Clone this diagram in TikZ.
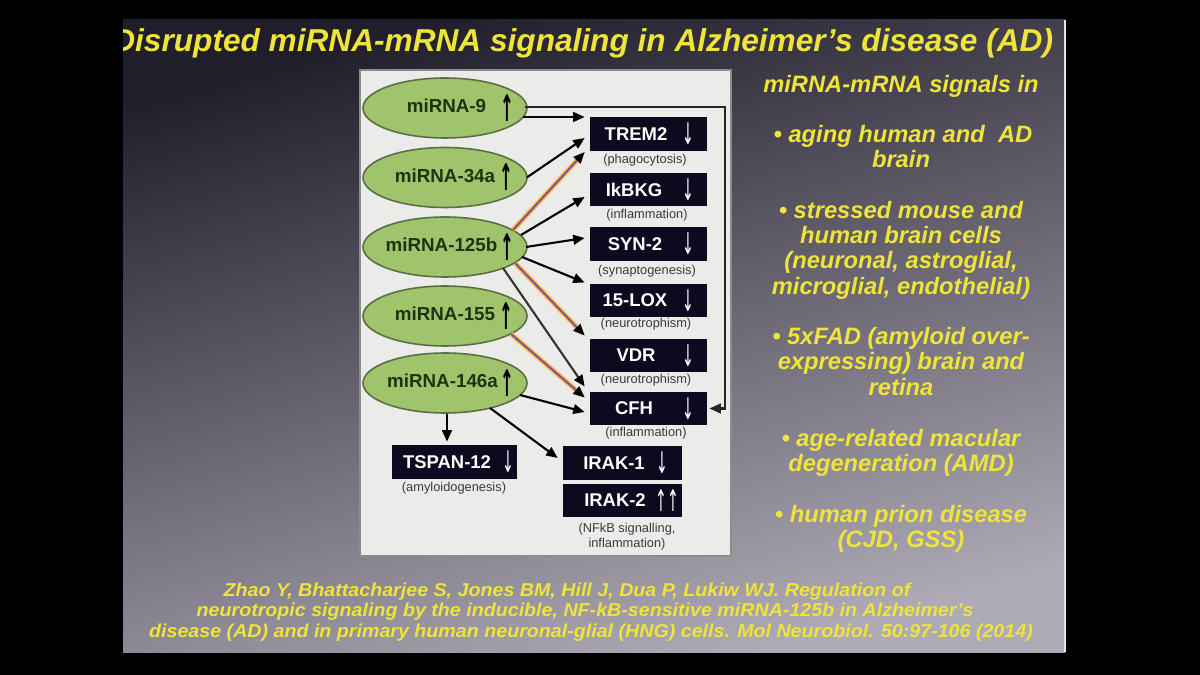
\documentclass[tikz,border=0pt]{standalone}
\usepackage{fontspec}
\setmainfont{Liberation Sans}
\newfontfamily\symf{DejaVu Sans}
\usetikzlibrary{arrows.meta,calc,shapes.geometric}
\definecolor{slidetop}{HTML}{211E2B}
\definecolor{slidemid}{HTML}{55515F}
\definecolor{slidebot}{HTML}{AEAAB6}
\definecolor{yel}{HTML}{EFE43A}
\definecolor{panel}{HTML}{EBEBE9}
\definecolor{panelb}{HTML}{8C8C8C}
\definecolor{ellf}{HTML}{9FC46C}
\definecolor{elld}{HTML}{5B6E45}
\definecolor{elltxt}{HTML}{1B3510}
\definecolor{boxc}{HTML}{0C0A1F}
\definecolor{subc}{HTML}{3A3A3A}
\definecolor{rainy}{HTML}{F0C040}
\definecolor{rainp}{HTML}{8A4A9A}
\newcommand\citew[1]{\scalebox{1.055}[1]{#1}}
\begin{document}
\begin{tikzpicture}[x=0.02cm,y=-0.02cm,
  mirna/.style={ellipse, fill=ellf, draw=elld, line width=0.9pt, minimum width=3.28cm, minimum height=1.2cm, inner sep=0pt},
  mtxt/.style={text=elltxt, font=\fontsize{10.7}{12}\selectfont\bfseries, inner sep=0pt},
  uparr/.style={text=black, font=\symf\bfseries\fontsize{11}{11}\selectfont, inner sep=0pt},
  gene/.style={rectangle, fill=boxc, minimum width=2.34cm, minimum height=0.68cm, inner sep=0pt},
  gtxt/.style={text=white, font=\fontsize{10.5}{12}\selectfont\bfseries, inner sep=0pt},
  dnarr/.style={text=white, font=\symf\fontsize{10}{10}\selectfont, inner sep=0pt},
  sub/.style={text=subc, font=\fontsize{7.3}{8.5}\selectfont, inner sep=0pt, align=center},
  arr/.style={draw=black, line width=1.2pt, -{Triangle[length=6.5pt,width=5.5pt]}},
  arrg/.style={draw=black!80, line width=1.2pt, -{Triangle[length=6.5pt,width=5.5pt,color=black]}},
  rain/.style={draw=rainp, line width=1.1pt, -{Triangle[length=6.5pt,width=5.5pt,color=black]},
    preaction={draw=rainy, line width=2.8pt, arrows=-, shorten >=5pt}},
  rtxt/.style={text=yel, font=\fontsize{13.5}{15}\selectfont\bfseries\itshape, anchor=base, inner sep=0pt},
  cit/.style={text=yel, font=\fontsize{10.6}{12}\selectfont\bfseries\itshape, anchor=base, inner sep=0pt}]
\useasboundingbox (0,0) rectangle (1200,675);
\fill[black] (0,0) rectangle (1200,675);
\shade[top color=slidetop, middle color=slidemid, bottom color=slidebot, shading angle=15] (123,20) rectangle (1065,652);
\draw[white!80!gray, line width=0.8pt] (1065,20) -- (1065,652);
\begin{scope}
\clip (123,20) rectangle (1065,652);
\node[text=yel, font=\fontsize{18}{21}\selectfont\bfseries\itshape, anchor=base west, inner sep=0pt] (title) at (112,52) {Disrupted miRNA-mRNA signaling in Alzheimer's disease (AD)};
\end{scope}

% panel
\draw[fill=panel, draw=panelb, line width=1pt] (360,70) rectangle (731,556);

% miRNA ellipses
\node[mirna] (m9) at (445,108) {};
\node[mirna] (m34) at (445,177.5) {};
\node[mirna] (m125) at (445,247) {};
\node[mirna] (m155) at (445,316) {};
\node[mirna] (m146) at (445,383) {};
\node[mtxt] (m9t) at (446.5,106) {miRNA-9};
\node[mtxt] (m34t) at (445,175.5) {miRNA-34a};
\node[mtxt] (m125t) at (441.5,245) {miRNA-125b};
\node[mtxt] (m155t) at (445,314) {miRNA-155};
\node[mtxt] (m146t) at (442.5,381) {miRNA-146a};
\node[uparr] (m9a) at (507,108) {\scalebox{0.85}[1.9]{↑}};
\node[uparr] (m34a) at (506,177.5) {\scalebox{0.85}[1.9]{↑}};
\node[uparr] (m125a) at (507,247) {\scalebox{0.85}[1.9]{↑}};
\node[uparr] (m155a) at (506,316) {\scalebox{0.85}[1.9]{↑}};
\node[uparr] (m146a) at (507,383) {\scalebox{0.85}[1.9]{↑}};

% gene boxes
\node[gene] (trem) at (648.5,134) {};
\node[gtxt] (tremt) at (636,134) {TREM2};
\node[dnarr] (trema) at (688,134) {\scalebox{0.8}[1.7]{↓}};
\node[sub] (treml) at (645,160) {(phagocytosis)};

\node[gene] (ikbkg) at (648.5,189.5) {};
\node[gtxt] (ikbkgt) at (634,189.5) {IkBKG};
\node[dnarr] (ikbkga) at (688,189.5) {\scalebox{0.8}[1.7]{↓}};
\node[sub] (ikbkgl) at (647,215) {(inflammation)};

\node[gene] (syn) at (648.5,244) {};
\node[gtxt] (synt) at (635,244) {SYN-2};
\node[dnarr] (syna) at (688,244) {\scalebox{0.8}[1.7]{↓}};
\node[sub] (synl) at (647,271) {(synaptogenesis)};

\node[gene] (lox) at (648.5,300.5) {};
\node[gtxt] (loxt) at (635,300.5) {15-LOX};
\node[dnarr] (loxa) at (688,300.5) {\scalebox{0.8}[1.7]{↓}};
\node[sub] (loxl) at (646,324) {(neurotrophism)};

\node[gene] (vdr) at (648.5,355.5) {};
\node[gtxt] (vdrt) at (636,355.5) {VDR};
\node[dnarr] (vdra) at (688,355.5) {\scalebox{0.8}[1.7]{↓}};
\node[sub] (vdrl) at (646,380) {(neurotrophism)};

\node[gene] (cfh) at (648.5,408.5) {};
\node[gtxt] (cfht) at (634,408.5) {CFH};
\node[dnarr] (cfha) at (688,408.5) {\scalebox{0.8}[1.7]{↓}};
\node[sub] (cfhl) at (646,433) {(inflammation)};

\node[gene, minimum width=2.5cm] (tspan) at (454.5,462) {};
\node[gtxt] (tspant) at (447,462) {TSPAN-12};
\node[dnarr] (tspana) at (508,462) {\scalebox{0.8}[1.7]{↓}};
\node[sub] (tspanl) at (454,488) {(amyloidogenesis)};

\node[gene, minimum width=2.38cm] (irak1) at (622.5,463) {};
\node[gtxt] (irak1t) at (614,463) {IRAK-1};
\node[dnarr] (irak1a) at (662,463) {\scalebox{0.8}[1.7]{↓}};
\node[gene, minimum width=2.38cm] (irak2) at (622.5,500.5) {};
\node[gtxt] (irak2t) at (615,500.5) {IRAK-2};
\node[dnarr] (irak2a) at (667,500.5) {\scalebox{0.8}[1.7]{↑↑}};
\node[sub] (irakl) at (627,537) {(NFkB signalling,\\inflammation)};

% connectors
\draw[arr] ($(m9.center)+(78,9)$) -- ($(trem.west)+(-5,-17)$);
\coordinate (loopc) at ($(cfh.east)+(18,0)$);
\draw[arr, draw=black!85] ($(m9.center)+(80,-1)$) -| (loopc) -- ($(cfh.east)+(2,0)$);
\draw[arr] ($(m34.east)+(-1,0)$) -- ($(trem.west)+(-5,4)$);
\draw[rain] ($(m125.center)+(68,-17)$) -- ($(trem.west)+(-5,18)$);
\draw[arr] ($(m125.center)+(76,-12)$) -- ($(ikbkg.west)+(-5,7.5)$);
\draw[arr] ($(m125.center)+(81,0)$) -- ($(syn.west)+(-5,-6)$);
\draw[arr] ($(m125.center)+(77,10)$) -- ($(lox.west)+(-5,-18)$);
\draw[rain] ($(m125.center)+(70,16)$) -- ($(vdr.west)+(-5,-20)$);
\draw[arrg] ($(m125.center)+(58,21)$) -- ($(cfh.west)+(-5,-22)$);
\draw[rain] ($(m155.center)+(66,18)$) -- ($(cfh.west)+(-5,-11)$);
\draw[arr] ($(m146.center)+(75,12)$) -- ($(cfh.west)+(-5,3.5)$);
\draw[arr] ($(m146.south)+(2,0)$) -- ($(tspan.north)+(-7.5,-3)$);
\draw[arr] ($(m146.center)+(45,25)$) -- ($(irak1.west)+(-5,-5)$);

% right text
\node[rtxt] (r1) at (901,93) {miRNA-mRNA signals in};
\node[rtxt] (r2) at (903,143) {• aging human and\ \ AD};
\node[rtxt] (r3) at (901,168) {brain};
\node[rtxt] (r4) at (901,219) {• stressed mouse and};
\node[rtxt] (r5) at (901,244) {human brain cells};
\node[rtxt] (r6) at (901,269) {(neuronal, astroglial,};
\node[rtxt] (r7) at (901,295) {microglial, endothelial)};
\node[rtxt] (r8) at (901,345) {• 5xFAD (amyloid over-};
\node[rtxt] (r9) at (901,370) {expressing) brain and};
\node[rtxt] (r10) at (901,396) {retina};
\node[rtxt] (r11) at (901,446) {• age-related macular};
\node[rtxt] (r12) at (901,471) {degeneration (AMD)};
\node[rtxt] (r13) at (901,522) {• human prion disease};
\node[rtxt] (r14) at (901,547) {(CJD, GSS)};

% citation
\node[cit] (c1) at (567,596) {\citew{Zhao Y, Bhattacharjee S, Jones BM, Hill J, Dua P, Lukiw WJ. Regulation of}};
\node[cit] (c2) at (585,616) {\citew{neurotropic signaling by the inducible, NF-kB-sensitive miRNA-125b in Alzheimer's}};
\node[cit] (c3) at (591,637) {\citew{disease (AD) and in primary human neuronal-glial (HNG) cells. Mol Neurobiol. 50:97-106 (2014)}};
\end{tikzpicture}
\end{document}
